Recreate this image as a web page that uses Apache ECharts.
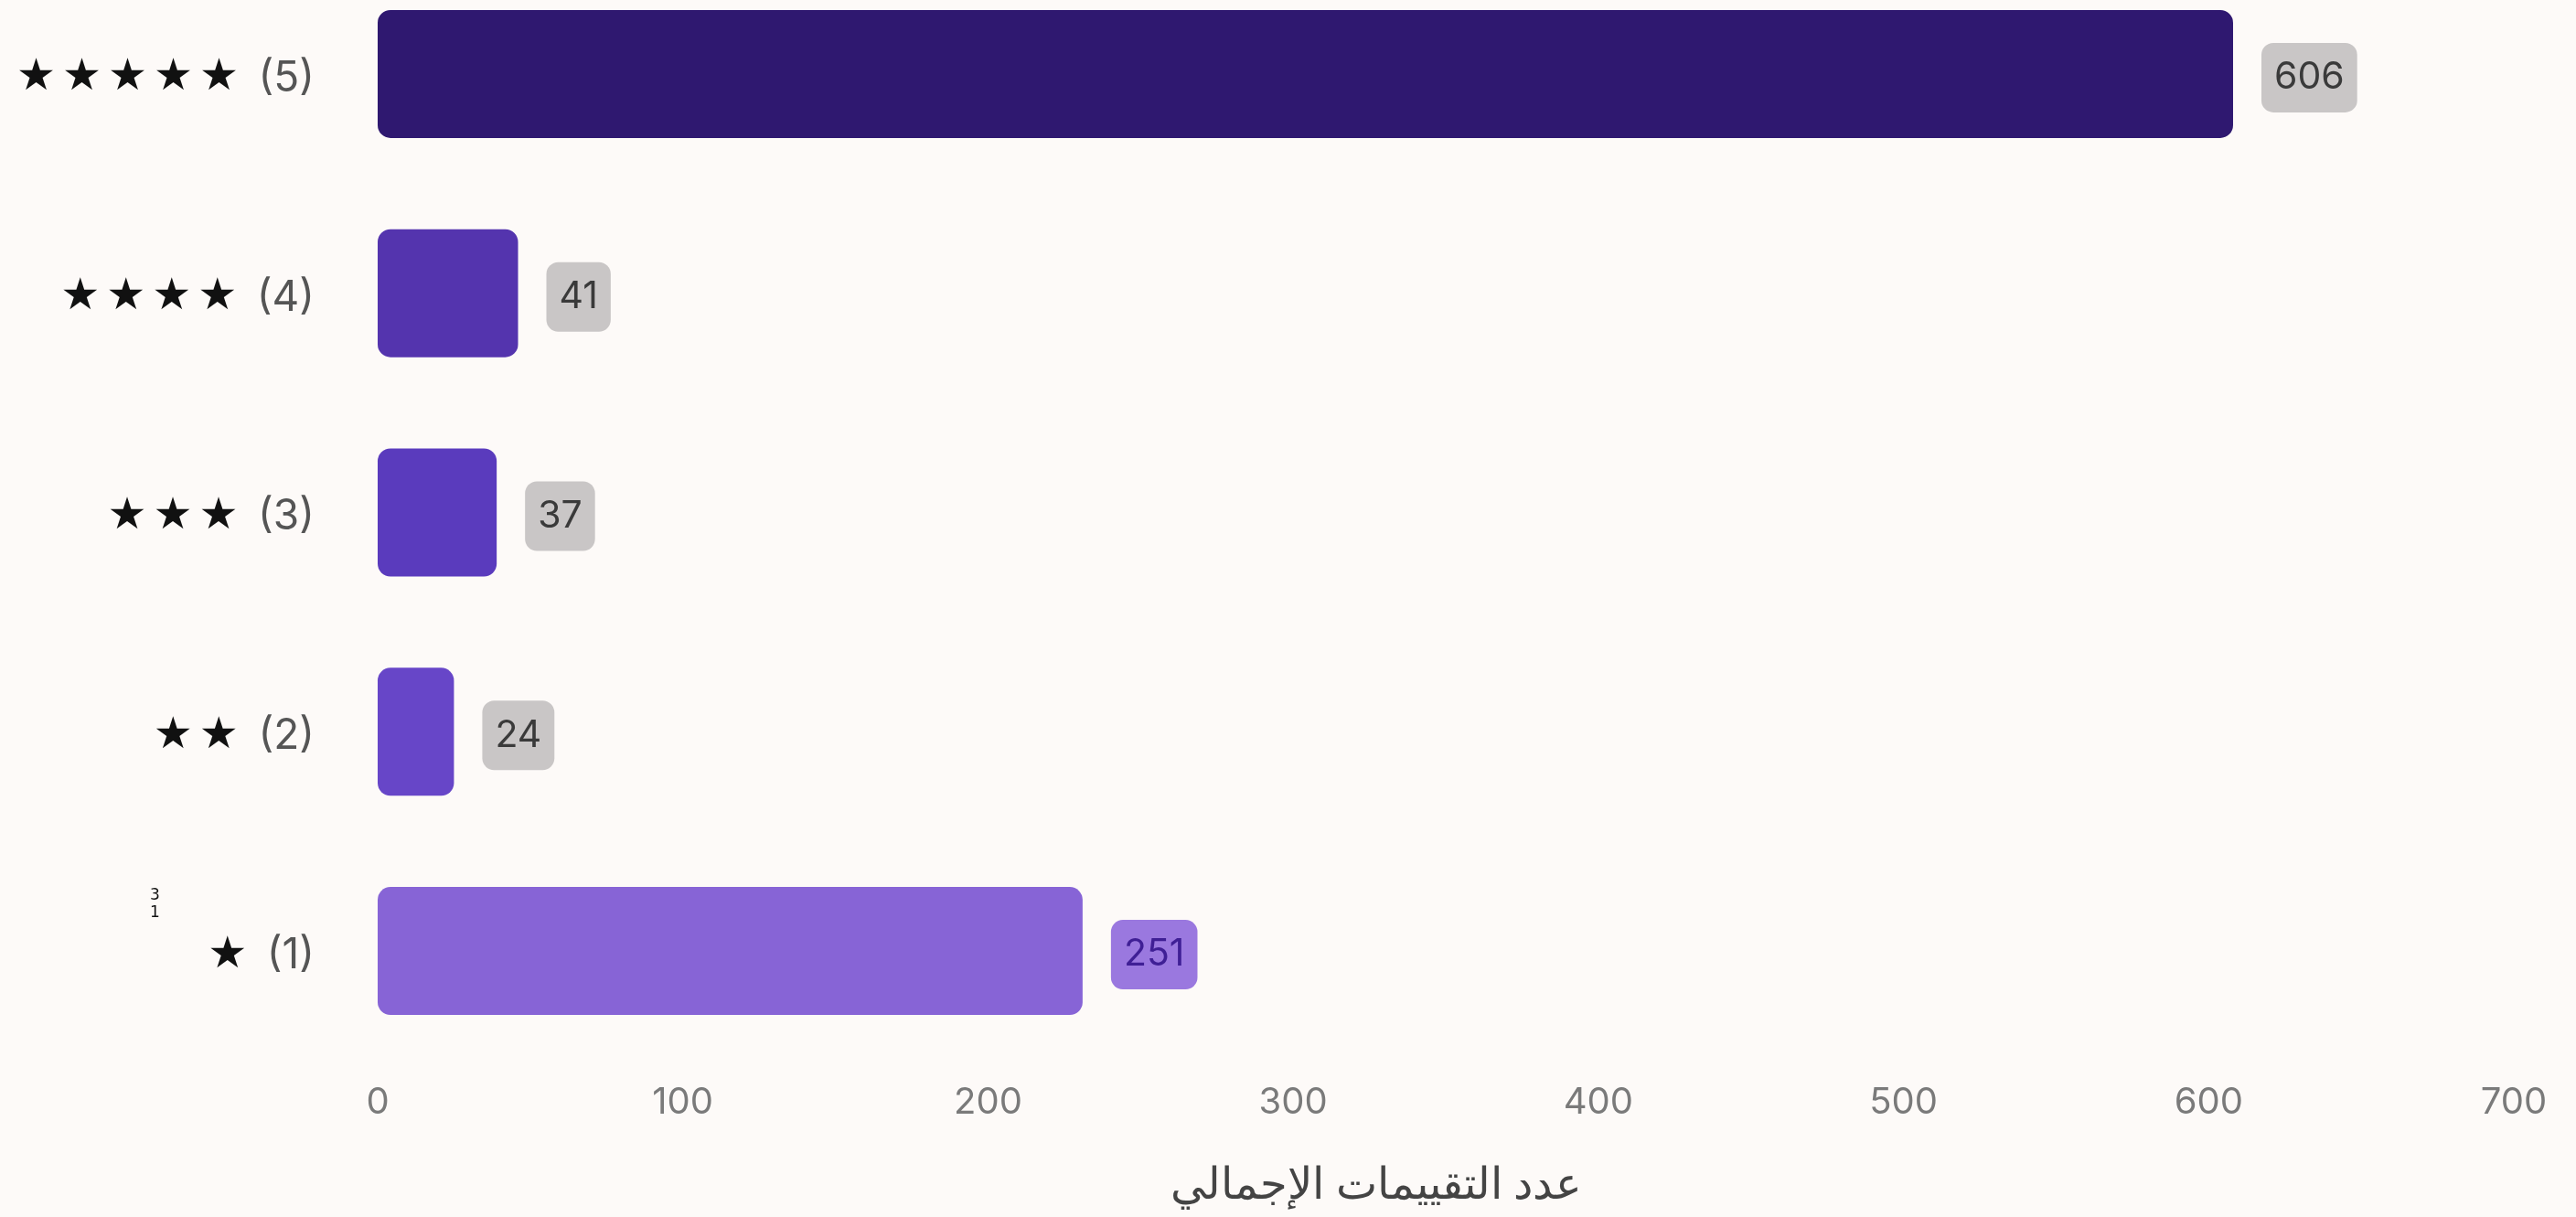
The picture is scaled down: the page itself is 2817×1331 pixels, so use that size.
<!DOCTYPE html>
<html><head><meta charset="utf-8">
<script src="https://cdn.jsdelivr.net/npm/echarts@6/dist/echarts.min.js"></script>
<style>html,body{margin:0;padding:0;background:#fdfaf8;}#c{width:2817px;height:1331px;}</style>
</head><body><div id="c"></div>
<script>
// ---- data ----
const ratingCategories = ['5', '4', '3', '2', '1'];          // top to bottom
const barLengths = [608, 46, 39, 25, 231];                    // bar lengths
const countLabels = ['606', '41', '37', '24', '251'];         // value labels printed on the chart
const xAxisMin = 0;
const xAxisMax = 700;
const xAxisStep = 100;
const axisTitle = 'عدد التقييمات الإجمالي';
const strayText = '3\n1';

// ---- styles ----
const barColors = ['#2f1870', '#5434ae', '#5a3bbd', '#6746c8', '#8764d6'];
const highlightIndex = 4;

const chart = echarts.init(document.getElementById('c'), null, {renderer: 'canvas'});

const seriesData = barLengths.map((v, i) => {
  const hl = i === highlightIndex;
  return {
    value: v,
    itemStyle: {color: barColors[i], borderRadius: 14},
    label: {
      show: true,
      position: 'right',
      distance: 31,
      offset: [0, 4],
      formatter: () => countLabels[i],
      fontFamily: 'Inter',
      fontSize: 41,
      lineHeight: 46,
      color: hl ? '#3f1f95' : '#3a3a3a',
      backgroundColor: hl ? '#9a78df' : '#c9c6c6',
      borderRadius: 13,
      padding: [15, 14]
    }
  };
});

chart.setOption({
  backgroundColor: '#fdfaf8',
  animation: false,
  grid: {left: 413, right: 68, top: -39, bottom: 171, containLabel: false, outerBoundsMode: 'none'},
  title: {
    text: axisTitle,
    left: 1500, top: 1268, textAlign: 'center',
    textStyle: {fontFamily: 'Noto Sans', fontSize: 48, fontWeight: 'normal', color: '#444444'}
  },
  graphic: [{
    type: 'text', left: 164, top: 970,
    style: {text: strayText, fontFamily: 'DejaVu Sans', fontSize: 17, lineHeight: 19, fill: '#111111'}
  }],
  xAxis: {
    type: 'value', min: xAxisMin, max: xAxisMax, interval: xAxisStep,
    axisLine: {show: false}, axisTick: {show: false}, splitLine: {show: false},
    axisLabel: {fontFamily: 'Inter', fontSize: 40, color: '#7a7a7a', margin: 26}
  },
  yAxis: {
    type: 'category', data: ratingCategories, inverse: true,
    axisLine: {show: false}, axisTick: {show: false},
    axisLabel: {
      margin: 69,
      padding: [10, 0, 0, 0],
      formatter: (v) => Array(Number(v)).fill('{s|★}').join('') + '{g| }{n|(' + v + ')}',
      rich: {
        s: {fontFamily: 'DejaVu Sans', fontSize: 48, color: '#111111', width: 50, align: 'center'},
        g: {fontSize: 28, width: 18},
        n: {fontFamily: 'Inter', fontSize: 46, color: '#555555'}
      }
    }
  },
  series: [{
    type: 'bar',
    data: seriesData,
    barWidth: 140
  }]
});
</script></body></html>
